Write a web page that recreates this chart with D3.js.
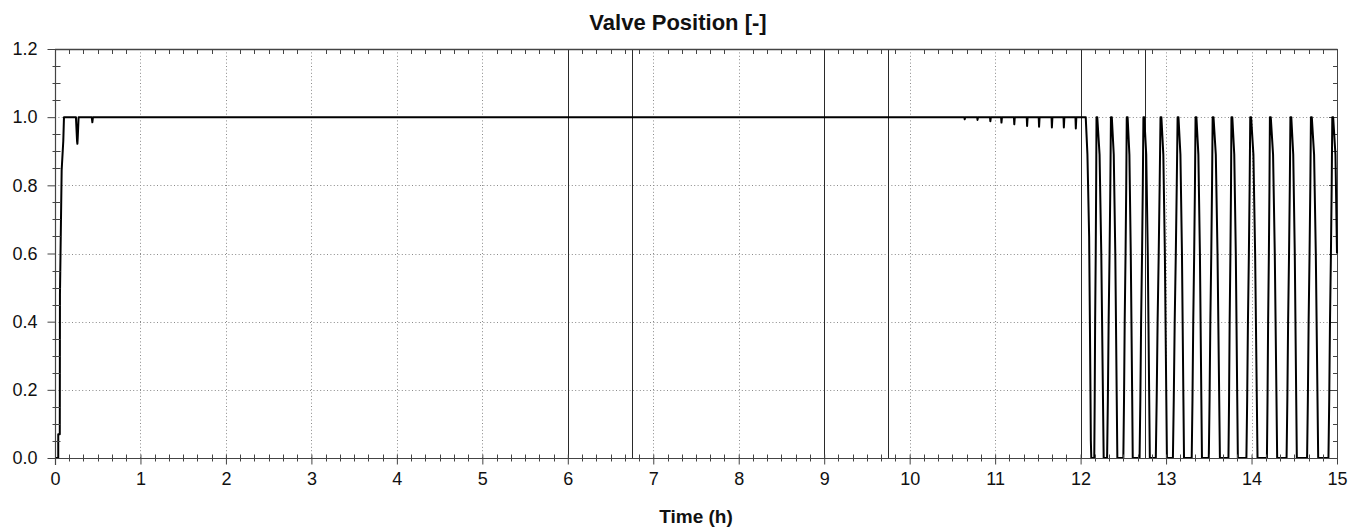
<!DOCTYPE html>
<html>
<head>
<meta charset="utf-8">
<script src="https://cdn.jsdelivr.net/npm/d3@7"></script>
<style>
  html, body { margin: 0; padding: 0; background: #fff; }
  svg { display: block; font-family: "Liberation Sans", Arial, sans-serif; }
</style>
</head>
<body>
<svg id="chart" width="1366" height="529"></svg>
<script>
// ---- data -------------------------------------------------------------
const chartTitle = "Valve Position [-]";
const xTitle = "Time (h)";

const xMajorTicks = [0, 1, 2, 3, 4, 5, 6, 7, 8, 9, 10, 11, 12, 13, 14, 15];
const yMajorTicks = [0.0, 0.2, 0.4, 0.6, 0.8, 1.0, 1.2];
const xMinorPerMajor = 6;   // 10-minute sub-ticks
const yMinorPerMajor = 4;   // 0.05 sub-ticks

// operator events (hours)
const eventTimes = [6, 6.75, 9, 9.75, 12, 12.75];

// start-up: valve opens fully
const startup = [
  [0, 0], [0.038, 0], [0.038, 0.07], [0.056, 0.07], [0.058, 0.48],
  [0.078, 0.845], [0.097, 0.93], [0.105, 1], [0.245, 1], [0.258, 0.93],
  [0.262, 0.922], [0.266, 0.94], [0.276, 1], [0.43, 1], [0.437, 0.985],
  [0.444, 1]
];

// steady full-open operation with short closing pulses before the switch
const steady = [
  [10.64, 1], [10.644, 0.994], [10.65, 1],
  [10.79, 1], [10.794, 0.992], [10.80, 1],
  [10.94, 1], [10.944, 0.988], [10.95, 1],
  [11.07, 1], [11.074, 0.984], [11.08, 1],
  [11.22, 1], [11.224, 0.979], [11.23, 1],
  [11.37, 1], [11.374, 0.974], [11.38, 1],
  [11.51, 1], [11.514, 0.972], [11.52, 1],
  [11.66, 1], [11.664, 0.970], [11.67, 1],
  [11.80, 1], [11.804, 0.970], [11.81, 1],
  [11.94, 1], [11.944, 0.967], [11.95, 1]
];

// on/off cycling after 12 h
const cycling = [
  [12.06, 1], [12.08, 0.89], [12.10, 0.65], [12.11, 0.36], [12.12, 0.05], [12.125, 0],
  [12.16, 0], [12.165, 0.17], [12.17, 0.4], [12.177, 0.6], [12.182, 0.8], [12.186, 1], [12.195, 1],
  [12.222, 0.89], [12.242, 0.6], [12.262, 0.17], [12.27, 0],
  [12.31, 0], [12.319, 0.17], [12.328, 0.4], [12.339, 0.6], [12.348, 0.8], [12.355, 1], [12.365, 1],
  [12.388, 0.89], [12.406, 0.6], [12.423, 0.17], [12.43, 0],
  [12.50, 0], [12.508, 0.17], [12.516, 0.4], [12.526, 0.6], [12.534, 0.8], [12.54, 1], [12.55, 1],
  [12.571, 0.89], [12.587, 0.6], [12.604, 0.17], [12.61, 0],
  [12.69, 0], [12.699, 0.17], [12.708, 0.4], [12.719, 0.6], [12.728, 0.8], [12.735, 1], [12.745, 1],
  [12.768, 0.89], [12.786, 0.6], [12.803, 0.17], [12.81, 0],
  [12.88, 0], [12.89, 0.17], [12.901, 0.4], [12.914, 0.6], [12.925, 0.8], [12.935, 1], [12.945, 1],
  [12.968, 0.89], [12.986, 0.6], [13.003, 0.17], [13.01, 0],
  [13.08, 0], [13.09, 0.17], [13.101, 0.4], [13.114, 0.6], [13.125, 0.8], [13.135, 1], [13.145, 1],
  [13.168, 0.89], [13.186, 0.6], [13.203, 0.17], [13.21, 0],
  [13.30, 0], [13.309, 0.17], [13.318, 0.4], [13.329, 0.6], [13.338, 0.8], [13.345, 1], [13.355, 1],
  [13.378, 0.89], [13.396, 0.6], [13.413, 0.17], [13.42, 0],
  [13.50, 0], [13.509, 0.17], [13.518, 0.4], [13.529, 0.6], [13.538, 0.8], [13.545, 1], [13.555, 1],
  [13.582, 0.89], [13.602, 0.6], [13.622, 0.17], [13.63, 0],
  [13.73, 0], [13.737, 0.17], [13.744, 0.4], [13.753, 0.6], [13.76, 0.8], [13.765, 1], [13.775, 1],
  [13.798, 0.89], [13.816, 0.6], [13.833, 0.17], [13.84, 0],
  [13.94, 0], [13.949, 0.17], [13.958, 0.4], [13.969, 0.6], [13.978, 0.8], [13.985, 1], [13.995, 1],
  [14.022, 0.89], [14.042, 0.6], [14.062, 0.17], [14.07, 0],
  [14.18, 0], [14.187, 0.17], [14.194, 0.4], [14.203, 0.6], [14.21, 0.8], [14.215, 1], [14.225, 1],
  [14.252, 0.89], [14.272, 0.6], [14.292, 0.17], [14.30, 0],
  [14.41, 0], [14.419, 0.17], [14.428, 0.4], [14.439, 0.6], [14.448, 0.8], [14.455, 1], [14.465, 1],
  [14.488, 0.89], [14.506, 0.6], [14.523, 0.17], [14.53, 0],
  [14.65, 0], [14.659, 0.17], [14.668, 0.4], [14.679, 0.6], [14.688, 0.8], [14.695, 1], [14.705, 1],
  [14.732, 0.89], [14.752, 0.6], [14.772, 0.17], [14.78, 0],
  [14.90, 0], [14.909, 0.17], [14.918, 0.4], [14.929, 0.6], [14.938, 0.8], [14.945, 1], [14.955, 1],
  [14.982, 0.89], [15.0, 0.6]
];

const valveSeries = startup.concat(steady, cycling);

// ---- layout -----------------------------------------------------------
const svg = d3.select("#chart");
const plot = { left: 55, right: 1337, top: 49, bottom: 458 };
const ink = "#111";
const axisInk = "#444";

const x = d3.scaleLinear().domain([0, 15]).range([plot.left, plot.right]);
const y = d3.scaleLinear().domain([0, 1.2]).range([plot.bottom, plot.top]);

function minorValues(majors, n) {
  const out = [];
  for (let i = 0; i < majors.length - 1; i++) {
    const a = majors[i], b = majors[i + 1];
    for (let k = 1; k < n; k++) out.push(a + (b - a) * k / n);
  }
  return out;
}
const xMinor = minorValues(xMajorTicks, xMinorPerMajor);
const yMinor = minorValues(yMajorTicks, yMinorPerMajor);

// dotted grid
const grid = svg.append("g").attr("stroke", "#8a8a8a").attr("stroke-width", 1)
  .attr("stroke-dasharray", "1,2.4");
grid.selectAll("line.gx").data(xMajorTicks.slice(1, -1)).join("line")
  .attr("x1", d => Math.round(x(d)) + 0.5).attr("x2", d => Math.round(x(d)) + 0.5)
  .attr("y1", plot.top).attr("y2", plot.bottom);
grid.selectAll("line.gy").data(yMajorTicks.slice(1, -1)).join("line")
  .attr("class", "gy")
  .attr("x1", plot.left).attr("x2", plot.right)
  .attr("y1", d => Math.round(y(d)) + 0.5).attr("y2", d => Math.round(y(d)) + 0.5);

// event markers
svg.append("g").selectAll("line").data(eventTimes).join("line")
  .attr("x1", d => Math.round(x(d)) + 0.5).attr("x2", d => Math.round(x(d)) + 0.5)
  .attr("y1", plot.top).attr("y2", plot.bottom)
  .attr("stroke", "#2a2a2a").attr("stroke-width", 1);

// frame: top and right edges with inward ticks
const frame = svg.append("g").attr("stroke", axisInk).attr("stroke-width", 1);
frame.append("line").attr("x1", plot.left).attr("x2", plot.right + 0.5)
  .attr("y1", plot.top + 0.5).attr("y2", plot.top + 0.5).attr("stroke-width", 1.4);
frame.append("line").attr("x1", plot.right + 0.5).attr("x2", plot.right + 0.5)
  .attr("y1", plot.top).attr("y2", plot.bottom);
frame.selectAll("line.tt").data(xMinor).join("line").attr("class", "tt")
  .attr("x1", d => Math.round(x(d)) + 0.5).attr("x2", d => Math.round(x(d)) + 0.5)
  .attr("y1", plot.top).attr("y2", plot.top + 5);
frame.selectAll("line.rt").data(yMinor).join("line").attr("class", "rt")
  .attr("x1", plot.right - 4).attr("x2", plot.right)
  .attr("y1", d => Math.round(y(d)) + 0.5).attr("y2", d => Math.round(y(d)) + 0.5);
frame.selectAll("line.rtm").data(yMajorTicks.slice(1, -1)).join("line").attr("class", "rtm")
  .attr("x1", plot.right - 8).attr("x2", plot.right)
  .attr("y1", d => Math.round(y(d)) + 0.5).attr("y2", d => Math.round(y(d)) + 0.5);

// data line
svg.append("defs").append("clipPath").attr("id", "plotClip").append("rect")
  .attr("x", plot.left).attr("y", plot.top - 2)
  .attr("width", plot.right - plot.left + 1).attr("height", plot.bottom - plot.top + 3);

const line = d3.line().x(d => x(d[0])).y(d => y(d[1]));
svg.append("path").datum(valveSeries)
  .attr("clip-path", "url(#plotClip)")
  .attr("fill", "none").attr("stroke", "#000").attr("stroke-width", 2)
  .attr("stroke-linejoin", "round").attr("d", line);

// bottom axis
const xAxisG = svg.append("g").attr("transform", `translate(0,${plot.bottom + 0.5})`);
xAxisG.call(d3.axisBottom(x).tickValues(xMajorTicks).tickFormat(d3.format("d"))
  .tickSizeInner(6).tickSizeOuter(0));
xAxisG.select(".domain").remove();
xAxisG.append("line").attr("x1", plot.left - 7).attr("x2", plot.right + 0.5)
  .attr("stroke", axisInk).attr("stroke-width", 1.2);
xAxisG.selectAll(".tick line").attr("y1", -4).attr("y2", 6).attr("stroke", axisInk);
xAxisG.selectAll(".tick text").attr("y", 14).attr("dy", "0.71em")
  .attr("font-size", 18).attr("fill", ink);
xAxisG.selectAll("line.mn").data(xMinor).join("line").attr("class", "mn")
  .attr("x1", d => Math.round(x(d)) + 0.5).attr("x2", d => Math.round(x(d)) + 0.5)
  .attr("y1", -4).attr("y2", 3).attr("stroke", axisInk);

// left axis
const yAxisG = svg.append("g").attr("transform", `translate(${plot.left + 0.5},0)`);
yAxisG.call(d3.axisLeft(y).tickValues(yMajorTicks).tickFormat(d3.format(".1f"))
  .tickSizeInner(8).tickSizeOuter(0));
yAxisG.select(".domain").remove();
yAxisG.append("line").attr("y1", plot.top).attr("y2", plot.bottom + 7)
  .attr("stroke", axisInk).attr("stroke-width", 1.2);
yAxisG.selectAll(".tick line").attr("stroke", axisInk);
yAxisG.selectAll(".tick text").attr("x", -18).attr("font-size", 18).attr("fill", ink);
yAxisG.selectAll("line.mn").data(yMinor).join("line").attr("class", "mn")
  .attr("y1", d => Math.round(y(d)) + 0.5).attr("y2", d => Math.round(y(d)) + 0.5)
  .attr("x1", -3).attr("x2", 5).attr("stroke", axisInk);

// titles
svg.append("text").attr("x", 678).attr("y", 30).attr("text-anchor", "middle")
  .attr("font-size", 22).attr("font-weight", "bold").attr("fill", ink).text(chartTitle);
svg.append("text").attr("x", 696).attr("y", 523).attr("text-anchor", "middle")
  .attr("font-size", 19).attr("font-weight", "bold").attr("fill", ink).text(xTitle);
</script>
</body>
</html>
